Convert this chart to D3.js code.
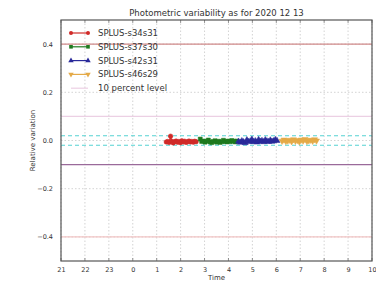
<!DOCTYPE html>
<html>
<head>
<meta charset="utf-8">
<script src="https://cdn.jsdelivr.net/npm/d3@7"></script>
<style>
  body { margin: 0; background: #fff; }
  text { font-family: "DejaVu Sans", sans-serif; fill: #333; }
</style>
</head>
<body>
<script>
var width = 376,
    height = 282;

// time in hours from midnight of the night (negative = previous evening)
var xTicks = [-3, -2, -1, 0, 1, 2, 3, 4, 5, 6, 7, 8, 9, 10];
var yTicks = [0.4, 0.2, 0.0, -0.2, -0.4];

var seriesNames = ['SPLUS-s34s31', 'SPLUS-s37s30', 'SPLUS-s42s31', 'SPLUS-s46s29'];

var t34 = [1.40, 1.46, 1.52, 1.58, 1.63, 1.69, 1.75, 1.81, 1.87, 1.93, 1.99, 2.05, 2.11, 2.17, 2.23, 2.29, 2.35, 2.41, 2.47, 2.53, 2.59, 2.65];
var v34 = [-0.006, -0.004, -0.008, 0.018, -0.003, -0.010, -0.005, -0.002, -0.007, -0.004, -0.009, -0.001, -0.006, -0.003, -0.008, -0.005, -0.002, -0.006, -0.004, -0.007, -0.003, -0.005];

var t37 = [2.82, 2.88, 2.95, 3.02, 3.09, 3.16, 3.23, 3.30, 3.37, 3.44, 3.51, 3.58, 3.65, 3.72, 3.79, 3.86, 3.93, 4.00, 4.07, 4.14, 4.21, 4.28, 4.35];
var v37 = [0.006, -0.004, -0.002, -0.007, -0.003, 0.002, -0.006, -0.009, -0.004, -0.001, -0.007, -0.003, -0.008, -0.005, 0.001, -0.004, -0.006, -0.002, -0.005, 0.000, -0.003, -0.006, -0.002];

var t42 = [4.42, 4.49, 4.56, 4.63, 4.70, 4.77, 4.84, 4.91, 4.98, 5.05, 5.12, 5.19, 5.26, 5.33, 5.40, 5.47, 5.54, 5.61, 5.68, 5.75, 5.82, 5.89, 5.96, 6.03];
var v42 = [-0.004, -0.008, -0.002, -0.006, -0.010, 0.002, -0.005, -0.003, 0.004, -0.006, -0.002, -0.007, 0.003, -0.004, -0.001, -0.006, 0.002, -0.003, -0.005, 0.001, -0.004, -0.002, 0.003, -0.001];

var t46 = [6.24, 6.32, 6.40, 6.48, 6.56, 6.64, 6.72, 6.80, 6.88, 6.96, 7.04, 7.12, 7.20, 7.28, 7.36, 7.44, 7.52, 7.60, 7.68];
var v46 = [-0.002, 0.003, -0.003, -0.001, 0.002, -0.004, 0.004, -0.002, 0.001, -0.005, 0.003, -0.001, 0.005, -0.003, 0.000, 0.002, -0.002, 0.004, -0.001];

var tenPercent = [0.1, -0.1];
var limits = [0.4, -0.4];
var band = [0.02, -0.02];

var series = [
  { name: seriesNames[0], t: t34, v: v34, color: '#d02a28', symbol: d3.symbolCircle },
  { name: seriesNames[1], t: t37, v: v37, color: '#1f7a1f', symbol: d3.symbolSquare },
  { name: seriesNames[2], t: t42, v: v42, color: '#2a2a9a', symbol: d3.symbolTriangle },
  { name: seriesNames[3], t: t46, v: v46, color: '#e4aa48', symbol: 'down' }
];

var margin = { top: 20, right: 4, bottom: 21, left: 61 };
var iw = width - margin.left - margin.right,
    ih = height - margin.top - margin.bottom;

var svg = d3.select('body').append('svg')
    .attr('width', width)
    .attr('height', height);

var g = svg.append('g').attr('transform', 'translate(' + margin.left + ',' + margin.top + ')');

var x = d3.scaleLinear().domain([-3, 10]).range([0, iw]);
var y = d3.scaleLinear().domain([-0.5, 0.5]).range([ih, 0]);

// grid
g.selectAll('.vgrid').data(xTicks).enter().append('line')
    .attr('x1', function(d){ return x(d); }).attr('x2', function(d){ return x(d); })
    .attr('y1', 0).attr('y2', ih)
    .attr('stroke', '#c8c8c8').attr('stroke-width', 0.8).attr('stroke-dasharray', '1.5,2');
g.selectAll('.hgrid').data(yTicks).enter().append('line')
    .attr('x1', 0).attr('x2', iw)
    .attr('y1', function(d){ return y(d); }).attr('y2', function(d){ return y(d); })
    .attr('stroke', '#c8c8c8').attr('stroke-width', 0.8).attr('stroke-dasharray', '1.5,2');

// reference lines
g.append('line').attr('x1', 0).attr('x2', iw).attr('y1', y(limits[0])).attr('y2', y(limits[0]))
    .attr('stroke', '#d08a8a').attr('stroke-width', 1.2);
g.append('line').attr('x1', 0).attr('x2', iw).attr('y1', y(limits[1])).attr('y2', y(limits[1]))
    .attr('stroke', '#f2c4c4').attr('stroke-width', 1.2);
g.append('line').attr('x1', 0).attr('x2', iw).attr('y1', y(tenPercent[0])).attr('y2', y(tenPercent[0]))
    .attr('stroke', '#ecd0e4').attr('stroke-width', 1.2);
g.append('line').attr('x1', 0).attr('x2', iw).attr('y1', y(tenPercent[1])).attr('y2', y(tenPercent[1]))
    .attr('stroke', '#9a6a9a').attr('stroke-width', 1.2);
band.forEach(function(b){
  g.append('line').attr('x1', 0).attr('x2', iw).attr('y1', y(b)).attr('y2', y(b))
      .attr('stroke', '#55d2d2').attr('stroke-width', 1.1).attr('stroke-dasharray', '4,3');
});

function sym(s, size) {
  if (s === 'down') return d3.symbol().type(d3.symbolTriangle).size(size)();
  return d3.symbol().type(s).size(size)();
}

// data
var line = d3.line().x(function(d){ return x(d[0]); }).y(function(d){ return y(d[1]); });
series.forEach(function(s){
  var pts = s.t.map(function(t, i){ return [t, s.v[i]]; });
  g.append('path').datum(pts).attr('d', line)
      .attr('fill', 'none').attr('stroke', s.color).attr('stroke-width', 1.2);
  g.selectAll(null).data(pts).enter().append('path')
      .attr('d', sym(s.symbol, 16))
      .attr('transform', function(d){
        return 'translate(' + x(d[0]) + ',' + y(d[1]) + ')' + (s.symbol === 'down' ? ' rotate(180)' : '');
      })
      .attr('fill', s.color).attr('stroke', s.color).attr('stroke-width', 0.5);
});

// frame
g.append('rect').attr('width', iw).attr('height', ih)
    .attr('fill', 'none').attr('stroke', '#555').attr('stroke-width', 1.2);

// axes
var xAxis = d3.axisBottom(x).tickValues(xTicks)
    .tickFormat(function(d){ return String((d + 24) % 24); })
    .tickSize(0).tickPadding(6);
var yAxis = d3.axisLeft(y).tickValues(yTicks)
    .tickFormat(function(d){ return d3.format('.1f')(d).replace('-', '\u2212'); })
    .tickSize(0).tickPadding(8);

var gx = g.append('g').attr('transform', 'translate(0,' + ih + ')').call(xAxis);
var gy = g.append('g').call(yAxis);
[gx, gy].forEach(function(a){
  a.select('.domain').remove();
  a.selectAll('text').style('font-size', '6.5px').attr('fill', '#333');
});
// inner ticks
g.selectAll('.xt').data(xTicks).enter().append('line')
    .attr('x1', function(d){ return x(d); }).attr('x2', function(d){ return x(d); })
    .attr('y1', ih).attr('y2', ih - 3).attr('stroke', '#555').attr('stroke-width', 0.6);
g.selectAll('.xt2').data(xTicks).enter().append('line')
    .attr('x1', function(d){ return x(d); }).attr('x2', function(d){ return x(d); })
    .attr('y1', 0).attr('y2', 3).attr('stroke', '#555').attr('stroke-width', 0.6);

// legend
var leg = g.append('g').attr('transform', 'translate(10,13)');
var legItems = series.map(function(s){ return { name: s.name, color: s.color, symbol: s.symbol }; });
legItems.push({ name: '10 percent level', color: '#ecd0e4', symbol: null });
legItems.forEach(function(d, i){
  var row = leg.append('g').attr('transform', 'translate(0,' + (i * 13.8) + ')');
  row.append('line').attr('x1', 0).attr('x2', 17).attr('y1', 0).attr('y2', 0)
      .attr('stroke', d.color).attr('stroke-width', 1.2);
  if (d.symbol) {
    [0, 17].forEach(function(px){
      row.append('path').attr('d', sym(d.symbol, 13))
          .attr('transform', 'translate(' + px + ',0)' + (d.symbol === 'down' ? ' rotate(180)' : ''))
          .attr('fill', d.color);
    });
  }
  row.append('text').attr('x', 27).attr('y', 3).style('font-size', '8.5px').text(d.name);
});

// titles
svg.append('text').attr('x', margin.left + iw / 2).attr('y', 16)
    .attr('text-anchor', 'middle').style('font-size', '8.5px')
    .text('Photometric variability as for 2020 12 13');
svg.append('text').attr('x', margin.left + iw / 2).attr('y', 280)
    .attr('text-anchor', 'middle').style('font-size', '7px').text('Time');
svg.append('text')
    .attr('transform', 'translate(35,' + (margin.top + ih / 2) + ') rotate(-90)')
    .attr('text-anchor', 'middle').style('font-size', '7px').text('Relative variation');
</script>
</body>
</html>
